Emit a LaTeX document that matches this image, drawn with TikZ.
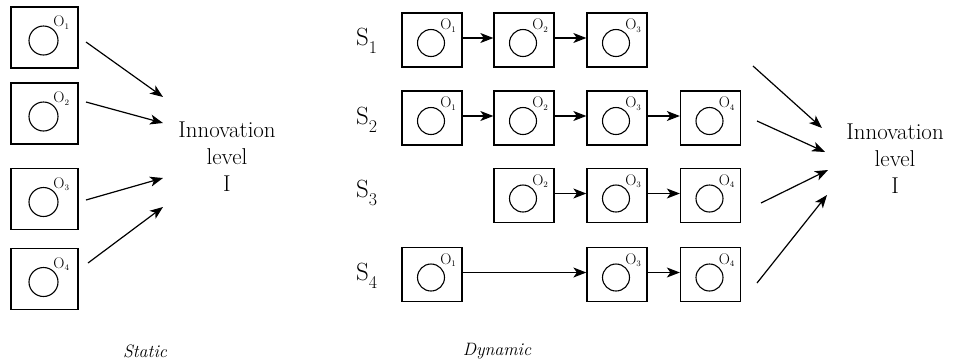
\documentclass[tikz,border=0pt]{standalone}
\usepackage{fontspec}
\setmainfont{Latin Modern Roman}
\usetikzlibrary{arrows.meta,calc}
% object box: style, name, x, y, index, circle radius
\newcommand\objbox[6]{%
  \node[#1] (#2) at (#3,#4) {};
  \draw[line width=1.1bp] ($(#2.center)+(-1,3)$) ellipse [x radius=#6bp, y radius=#6bp];
  \node[olabel] (#2o) at ($(#2.center)+(0.6*#6,-0.75*#6)$) {O\raisebox{-2.5bp}{\fontsize{8.5}{8.5}\selectfont #5}};
}
\newcommand\seqlabel[4]{%
  \node[slabel] (#1) at (#2,#3) {S\raisebox{-8bp}{\fontsize{18}{18}\selectfont #4}};
}
\begin{document}
\begin{tikzpicture}[x=1bp,y=-1bp,
  sbox/.style={draw,line width=1.3bp,minimum width=67bp,minimum height=61bp,inner sep=0},
  dbox/.style={draw,line width=1.3bp,minimum width=60bp,minimum height=54bp,inner sep=0},
  link/.style={line width=1.2bp,-{Stealth[length=13bp,width=10bp,inset=3.5bp]}},
  olabel/.style={inner sep=0,anchor=base west,font=\fontsize{15.5}{15.5}\selectfont},
  slabel/.style={inner sep=0,anchor=base west,font=\fontsize{25}{25}\selectfont},
  level/.style={align=center,inner sep=0,font=\fontsize{23}{27}\selectfont},
  caption/.style={inner sep=0,font=\fontsize{18}{18}\selectfont\itshape}
]
\useasboundingbox (0,0) rectangle (961,363);

% static view: four separate objects
\objbox{sbox}{a1}{44.5}{37.5}{1}{14.5}
\objbox{sbox}{a2}{44.5}{113.5}{2}{14.5}
\objbox{sbox}{a3}{44.5}{199}{3}{14.5}
\objbox{sbox}{a4}{44.5}{279}{4}{14.5}
\node[level] (lvA) at (227,157) {Innovation\\level\\I};
\coordinate (ta1) at (86,42);  \coordinate (ha1) at (163,97);
\coordinate (ta2) at (86,102); \coordinate (ha2) at (163,123);
\coordinate (ta3) at (86,200); \coordinate (ha3) at (163,178);
\coordinate (ta4) at (88,263); \coordinate (ha4) at (163,207);
\foreach \i in {1,...,4} \draw[link] (ta\i) -- (ha\i);
\node[caption] (cstat) at (145,351) {Static};

% dynamic view: sequences of objects
\seqlabel{s1}{356}{45}{1}
\seqlabel{s2}{356}{124}{2}
\seqlabel{s3}{356}{197}{3}
\seqlabel{s4}{356}{280}{4}

\objbox{dbox}{b11}{432}{40}{1}{13.5}
\objbox{dbox}{b12}{524}{40}{2}{13.5}
\objbox{dbox}{b13}{617}{40}{3}{13.5}

\objbox{dbox}{b21}{432}{118}{1}{13.5}
\objbox{dbox}{b22}{524}{118}{2}{13.5}
\objbox{dbox}{b23}{617}{118}{3}{13.5}
\objbox{dbox}{b24}{710.5}{118}{4}{13.5}

\objbox{dbox}{b32}{524}{195.5}{2}{13.5}
\objbox{dbox}{b33}{617}{195.5}{3}{13.5}
\objbox{dbox}{b34}{710.5}{195.5}{4}{13.5}

\objbox{dbox}{b41}{432}{274.5}{1}{13.5}
\objbox{dbox}{b43}{617}{274.5}{3}{13.5}
\objbox{dbox}{b44}{710.5}{274.5}{4}{13.5}

\foreach \a/\b in {b11/b12,b12/b13,b21/b22,b22/b23,b23/b24,b32/b33,b33/b34,b41/b43,b43/b44}
  \draw[link] ([yshift=2bp]\a.east) -- ([yshift=2bp]\b.west);

\node[level] (lvB) at (895,159) {Innovation\\level\\I};
\coordinate (tb1) at (753,66);  \coordinate (hb1) at (822,128);
\coordinate (tb2) at (757,121); \coordinate (hb2) at (825,152);
\coordinate (tb3) at (761,203); \coordinate (hb3) at (828,170);
\coordinate (tb4) at (757,283); \coordinate (hb4) at (827,195);
\foreach \i in {1,...,4} \draw[link] (tb\i) -- (hb\i);
\node[caption] (cdyn) at (497,351) {Dynamic};
\end{tikzpicture}
\end{document}
